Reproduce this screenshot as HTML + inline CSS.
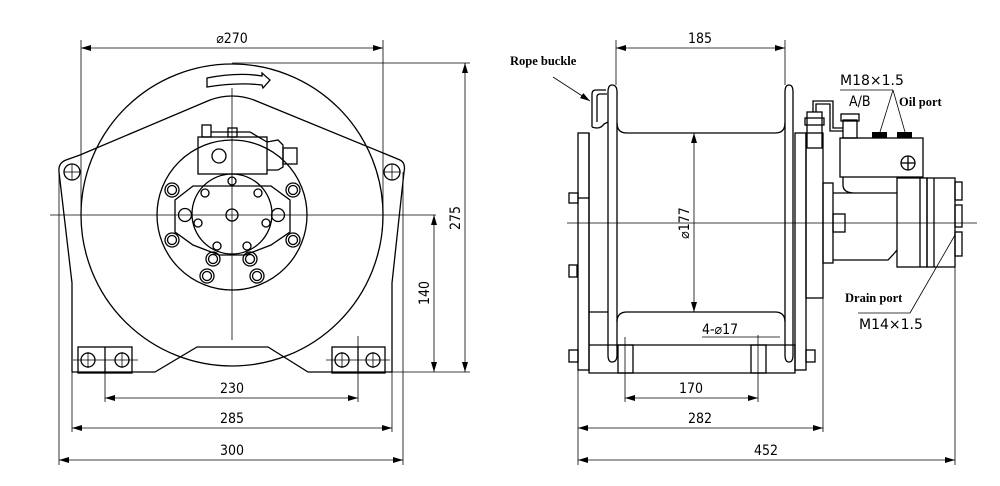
<!DOCTYPE html>
<html><head><meta charset="utf-8"><style>
html,body{margin:0;padding:0;background:#fff}
svg{display:block}
.l{stroke:#000;stroke-width:1.3;fill:none}
.t{stroke:#000;stroke-width:0.8;fill:none}
.d{font-family:"DejaVu Sans Condensed","Liberation Sans Narrow","Liberation Sans",sans-serif;font-size:14px;fill:#000}
.s{font-family:"Liberation Serif",serif;font-weight:bold;font-size:12.5px;fill:#000}
.m{font-family:"DejaVu Sans","Liberation Sans",sans-serif;font-size:14px;fill:#000}
</style></head><body>
<svg width="1000" height="486" viewBox="0 0 1000 486" xmlns="http://www.w3.org/2000/svg">
<defs>
<marker id="a" viewBox="0 0 10 6" refX="10" refY="3" markerWidth="10" markerHeight="6" orient="auto-start-reverse" markerUnits="userSpaceOnUse"><path d="M0,0 L10,3 L0,6 z" fill="#000"/></marker>
</defs>
<!-- LEFT VIEW -->
<g class="l">
<circle cx="232" cy="215" r="151"/>
<path d="M72,372 L72,283 L59,172 Q58,163 66,160 L80,155 L210,100 Q232,92 254,100 L388,155 L400,160 Q406,163 404,172 L392,283 L392,372"/>
<path d="M72,372 L155,372 L197,347 L268,347 L308,372 L392,372"/>
<rect x="78" y="347" width="54" height="26"/><line x1="105" y1="347" x2="105" y2="373"/>
<rect x="332" y="347" width="53" height="26"/><line x1="358" y1="347" x2="358" y2="373"/>
<circle cx="88" cy="360" r="7"/><circle cx="122" cy="360" r="7"/>
<circle cx="342" cy="360" r="7"/><circle cx="373" cy="360" r="7"/>
<circle cx="72" cy="172" r="8"/><circle cx="392" cy="172" r="8"/>
<circle cx="232" cy="215" r="75"/>
<circle cx="232" cy="214" r="40"/>
<path d="M175,200 L193,186 L271,186 L290,200 L290,232 L271,245 L245,255 L219,255 L193,245 L175,232 Z"/>
<rect x="198" y="137" width="69" height="37"/>
<circle cx="219" cy="156" r="7"/>
<path d="M267,142 L278,140 L283,145 L283,167 L278,170 L267,170"/>
<rect x="283" y="148" width="14" height="16"/>
<rect x="202" y="125" width="9" height="12"/><rect x="228" y="128" width="9" height="9"/>
<path d="M211,132 L250,132 L267,142"/>
<path d="M207,78 Q238,72 262,76 L262,73 L270,80 L263,88 L262,85 Q238,82 207,87 Z"/>
</g>
<g class="l">
<circle cx="172" cy="190" r="7"/><circle cx="172" cy="190" r="4.5"/>
<circle cx="293" cy="190" r="7"/><circle cx="293" cy="190" r="4.5"/>
<circle cx="172" cy="240" r="7"/><circle cx="172" cy="240" r="4.5"/>
<circle cx="293" cy="240" r="7"/><circle cx="293" cy="240" r="4.5"/>
<circle cx="185" cy="215" r="6.5"/><circle cx="278" cy="215" r="6.5"/>
<circle cx="213" cy="259" r="7"/><circle cx="213" cy="259" r="4.5"/>
<circle cx="250" cy="259" r="7"/><circle cx="250" cy="259" r="4.5"/>
<circle cx="207" cy="276" r="7"/><circle cx="207" cy="276" r="4.5"/>
<circle cx="257" cy="276" r="7"/><circle cx="257" cy="276" r="4.5"/>
<circle cx="232" cy="181" r="4"/><circle cx="205" cy="193" r="4"/><circle cx="258" cy="193" r="4"/>
<circle cx="198" cy="223" r="4"/><circle cx="266" cy="223" r="4"/>
<circle cx="217" cy="246" r="4"/><circle cx="247" cy="246" r="4"/>
<circle cx="232" cy="215" r="6"/>
</g>
<g class="t">
<line x1="50" y1="215" x2="436" y2="215"/><line x1="232" y1="88" x2="232" y2="340"/>
<line x1="64" y1="172" x2="80" y2="172"/><line x1="72" y1="164" x2="72" y2="180"/>
<line x1="384" y1="172" x2="400" y2="172"/><line x1="392" y1="164" x2="392" y2="180"/>
<line x1="73" y1="360" x2="138" y2="360"/><line x1="326" y1="360" x2="390" y2="360"/>
<line x1="88" y1="352" x2="88" y2="368"/><line x1="122" y1="352" x2="122" y2="368"/>
<line x1="342" y1="352" x2="342" y2="368"/><line x1="373" y1="352" x2="373" y2="368"/>
<line x1="81" y1="40" x2="81" y2="215"/><line x1="383" y1="40" x2="383" y2="215"/>
<line x1="81" y1="48" x2="383" y2="48" marker-start="url(#a)" marker-end="url(#a)"/>
<line x1="232" y1="63" x2="470" y2="63"/><line x1="392" y1="372" x2="470" y2="372"/>
<line x1="465" y1="63" x2="465" y2="372" marker-start="url(#a)" marker-end="url(#a)"/>
<line x1="434" y1="215" x2="434" y2="372" marker-start="url(#a)" marker-end="url(#a)"/>
<line x1="105" y1="373" x2="105" y2="402"/><line x1="358" y1="336" x2="358" y2="402"/>
<line x1="105" y1="398" x2="358" y2="398" marker-start="url(#a)" marker-end="url(#a)"/>
<line x1="72" y1="372" x2="72" y2="432"/><line x1="392" y1="372" x2="392" y2="432"/>
<line x1="72" y1="428" x2="392" y2="428" marker-start="url(#a)" marker-end="url(#a)"/>
<line x1="59" y1="172" x2="59" y2="465"/><line x1="403" y1="172" x2="403" y2="465"/>
<line x1="59" y1="460" x2="403" y2="460" marker-start="url(#a)" marker-end="url(#a)"/>
</g>
<text class="d" x="232" y="43" text-anchor="middle">⌀270</text>
<text class="d" x="232" y="393" text-anchor="middle">230</text>
<text class="d" x="232" y="423" text-anchor="middle">285</text>
<text class="d" x="232" y="455" text-anchor="middle">300</text>
<text class="d" transform="translate(460,218) rotate(-90)" text-anchor="middle">275</text>
<text class="d" transform="translate(429,293) rotate(-90)" text-anchor="middle">140</text>

<!-- RIGHT VIEW -->
<g class="l">
<rect x="578" y="133" width="11" height="237"/>
<path d="M589,133 L589,373 L795,373 L795,345 L589,345"/>
<path d="M589,312 L608,312"/>
<path d="M608,92 Q608,85 612,85 Q617,85 617,92 L617,355 Q617,362 612,362 Q608,362 608,355 Z"/>
<path d="M785,92 Q785,85 789,85 Q793,85 793,92 L793,355 Q793,362 789,362 Q785,362 785,355 Z"/>
<path d="M617,123 Q617,133 627,133 L775,133 Q785,133 785,123"/>
<path d="M617,322 Q617,312 627,312 L775,312 Q785,312 785,322"/>
<rect x="618" y="345" width="15" height="28"/><rect x="751" y="345" width="15" height="28"/>
<path d="M592,127 L592,94 Q592,90 596,90 L606,90 M597,122 L597,97 Q597,94 600,94 L607,94 M592,127 Q600,130 604,124 L608,122"/>
<rect x="795" y="133" width="11" height="237"/>
<rect x="806" y="133" width="17" height="165"/>
<rect x="823" y="183" width="10" height="80"/>
<path d="M833,193 L855,193 Q843,193 843,185 L843,177 M855,193 L897,193 M833,260 L888,260 Q893,255 897,250"/>
<rect x="897" y="178" width="30" height="89"/>
<line x1="920" y1="178" x2="920" y2="267"/>
<rect x="927" y="178" width="28" height="89"/>
<line x1="934" y1="178" x2="934" y2="267"/>
<rect x="955" y="182" width="7" height="18"/><rect x="955" y="205" width="7" height="22"/><rect x="955" y="232" width="7" height="24"/>
<rect x="840" y="138" width="83" height="39"/>
<circle cx="908" cy="163" r="7"/><line x1="901" y1="163" x2="915" y2="163"/><line x1="908" y1="156" x2="908" y2="170"/>
<rect x="843" y="120" width="14" height="18"/><rect x="841" y="114" width="18" height="7"/>
<rect x="807" y="112" width="15" height="36"/><rect x="805" y="118" width="19" height="7"/>
<path d="M813,112 L813,101 L833,101 L833,128 L843,128 M816,112 L816,104 L830,104 L830,131 L843,131"/>
<rect x="833" y="214" width="12" height="18"/>
<rect x="569" y="193" width="9" height="10"/><line x1="578" y1="198" x2="589" y2="198"/>
<rect x="569" y="265" width="8" height="12"/>
<rect x="569" y="350" width="9" height="12"/>
<rect x="806" y="350" width="9" height="12"/>
</g>
<g fill="#000">
<rect x="872" y="132" width="15" height="6"/><rect x="897" y="132" width="15" height="6"/>
</g>
<g class="t">
<line x1="567" y1="223" x2="977" y2="223"/>
<line x1="616" y1="40" x2="616" y2="85"/><line x1="785" y1="40" x2="785" y2="85"/>
<line x1="616" y1="48" x2="785" y2="48" marker-start="url(#a)" marker-end="url(#a)"/>
<line x1="694" y1="133" x2="694" y2="312" marker-start="url(#a)" marker-end="url(#a)"/>
<line x1="625" y1="337" x2="625" y2="402"/><line x1="758" y1="335" x2="758" y2="402"/>
<line x1="625" y1="398" x2="758" y2="398" marker-start="url(#a)" marker-end="url(#a)"/>
<line x1="702" y1="337" x2="780" y2="337"/>
<line x1="578" y1="370" x2="578" y2="465"/><line x1="823" y1="298" x2="823" y2="432"/><line x1="955" y1="267" x2="955" y2="465"/>
<line x1="578" y1="428" x2="823" y2="428" marker-start="url(#a)" marker-end="url(#a)"/>
<line x1="578" y1="460" x2="955" y2="460" marker-start="url(#a)" marker-end="url(#a)"/>
<line x1="553" y1="77" x2="590" y2="101" marker-end="url(#a)"/>
<line x1="840" y1="90" x2="893" y2="90"/>
<line x1="893" y1="90" x2="880" y2="132"/><line x1="893" y1="90" x2="905" y2="132"/>
<line x1="858" y1="313" x2="910" y2="313"/><line x1="910" y1="313" x2="955" y2="235"/>
</g>
<text class="s" x="510" y="65">Rope buckle</text>
<text class="d" x="700" y="43" text-anchor="middle">185</text>
<text class="d" transform="translate(689,223) rotate(-90)" text-anchor="middle">⌀177</text>
<text class="d" x="702" y="334">4-⌀17</text>
<text class="d" x="691" y="393" text-anchor="middle">170</text>
<text class="d" x="700" y="423" text-anchor="middle">282</text>
<text class="d" x="766" y="455" text-anchor="middle">452</text>
<text class="m" x="840" y="85">M18×1.5</text>
<text class="d" x="849" y="106">A/B</text>
<text class="s" x="899" y="106">Oil port</text>
<text class="s" x="845" y="302">Drain port</text>
<text class="m" x="859" y="329">M14×1.5</text>
</svg>
</body></html>
